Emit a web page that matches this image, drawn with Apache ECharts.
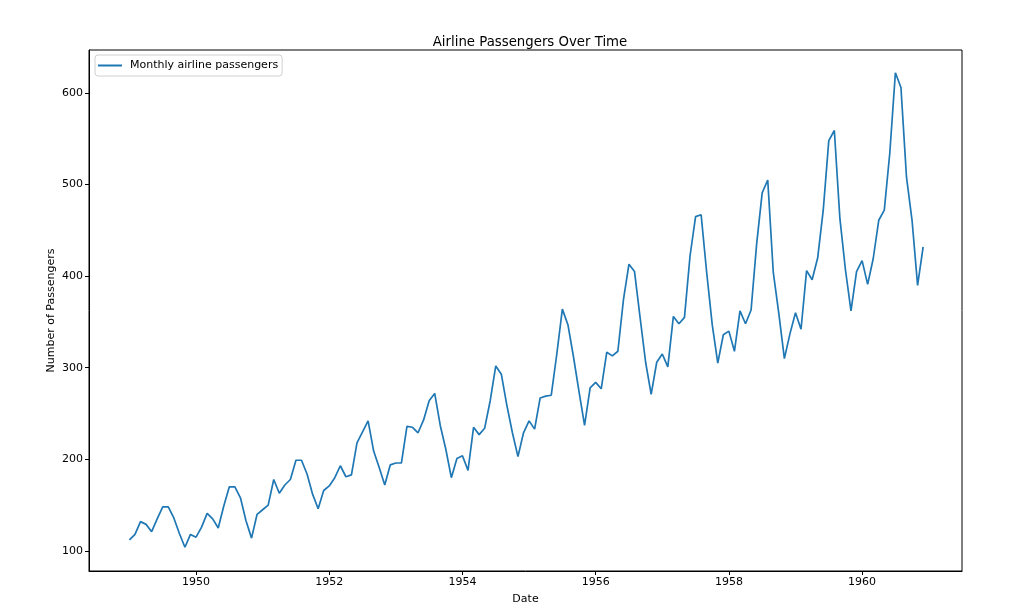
<!DOCTYPE html>
<html>
<head>
<meta charset="utf-8">
<script src="https://cdn.jsdelivr.net/npm/echarts@6/dist/echarts.min.js"></script>
<style>html,body{margin:0;padding:0;background:#fff}#c{width:1024px;height:613px}</style>
</head>
<body>
<div id="c"></div>
<script>
const years = [1949,1950,1951,1952,1953,1954,1955,1956,1957,1958,1959,1960];
const passengers1949 = [112,118,132,129,121,135,148,148,136,119,104,118];
const passengers1950 = [115,126,141,135,125,149,170,170,158,133,114,140];
const passengers1951 = [145,150,178,163,172,178,199,199,184,162,146,166];
const passengers1952 = [171,180,193,181,183,218,230,242,209,191,172,194];
const passengers1953 = [196,196,236,235,229,243,264,272,237,211,180,201];
const passengers1954 = [204,188,235,227,234,264,302,293,259,229,203,229];
const passengers1955 = [242,233,267,269,270,315,364,347,312,274,237,278];
const passengers1956 = [284,277,317,313,318,374,413,405,355,306,271,306];
const passengers1957 = [315,301,356,348,355,422,465,467,404,347,305,336];
const passengers1958 = [340,318,362,348,363,435,491,505,404,359,310,337];
const passengers1959 = [360,342,406,396,420,472,548,559,463,407,362,405];
const passengers1960 = [417,391,419,461,472,535,622,606,508,461,390,432];
const xTicks = [1950,1952,1954,1956,1958,1960];
const yTicks = [100,200,300,400,500,600];

const allYears = [passengers1949,passengers1950,passengers1951,passengers1952,passengers1953,passengers1954,
  passengers1955,passengers1956,passengers1957,passengers1958,passengers1959,passengers1960];
const data = [];
allYears.forEach((arr, i) => arr.forEach((v, m) => data.push([years[i] + m / 12, v])));

const chart = echarts.init(document.getElementById('c'));
const font = 'DejaVu Sans';
chart.setOption({
  animation: false,
  backgroundColor: '#fff',
  title: {
    text: 'Airline Passengers Over Time',
    left: 525, top: 31, textAlign: 'center',
    textStyle: {fontFamily: font, fontSize: 13.3, fontWeight: 'normal', color: '#000'}
  },
  legend: {
    left: 95, top: 55,
    padding: [5, 4, 5, 3],
    borderColor: '#d0d0d0', borderWidth: 1, borderRadius: 3,
    icon: 'rect',
    itemWidth: 24, itemHeight: 2, itemGap: 8,
    textStyle: {fontFamily: font, fontSize: 11, color: '#000', lineHeight: 11, padding: [0, 0, 0, 3]},
    data: ['Monthly airline passengers']
  },
  grid: {left: 89, right: 62, top: 50, bottom: 42, show: true, borderColor: '#000', borderWidth: 1},
  xAxis: {
    type: 'value', min: 1948.393, max: 1961.5,
    name: 'Date', nameLocation: 'middle', nameGap: 23, nameMoveOverlap: false,
    nameTextStyle: {fontFamily: font, fontSize: 11, color: '#000'},
    axisLine: {show: true, lineStyle: {color: '#000', width: 1}},
    axisTick: {show: true, inside: false, length: 4, lineStyle: {color: '#000'}, customValues: xTicks},
    axisLabel: {fontFamily: font, fontSize: 11, color: '#000', margin: 6, customValues: xTicks, formatter: v => String(v)},
    splitLine: {show: false}
  },
  yAxis: {
    type: 'value', min: 78.1, max: 646.9,
    name: 'Number of Passengers', nameLocation: 'middle', nameGap: 32, nameRotate: 90, nameMoveOverlap: false,
    nameTextStyle: {fontFamily: font, fontSize: 11, color: '#000'},
    axisLine: {show: true, lineStyle: {color: '#000', width: 1}},
    axisTick: {show: true, inside: false, length: 4, lineStyle: {color: '#000'}, customValues: yTicks},
    axisLabel: {fontFamily: font, fontSize: 11, color: '#000', margin: 6, customValues: yTicks, formatter: v => String(v)},
    splitLine: {show: false}
  },
  series: [{
    name: 'Monthly airline passengers',
    type: 'line', data: data, symbol: 'none', showSymbol: false,
    lineStyle: {color: '#1f77b4', width: 1.7}, itemStyle: {color: '#1f77b4'}
  }]
});
</script>
</body>
</html>
